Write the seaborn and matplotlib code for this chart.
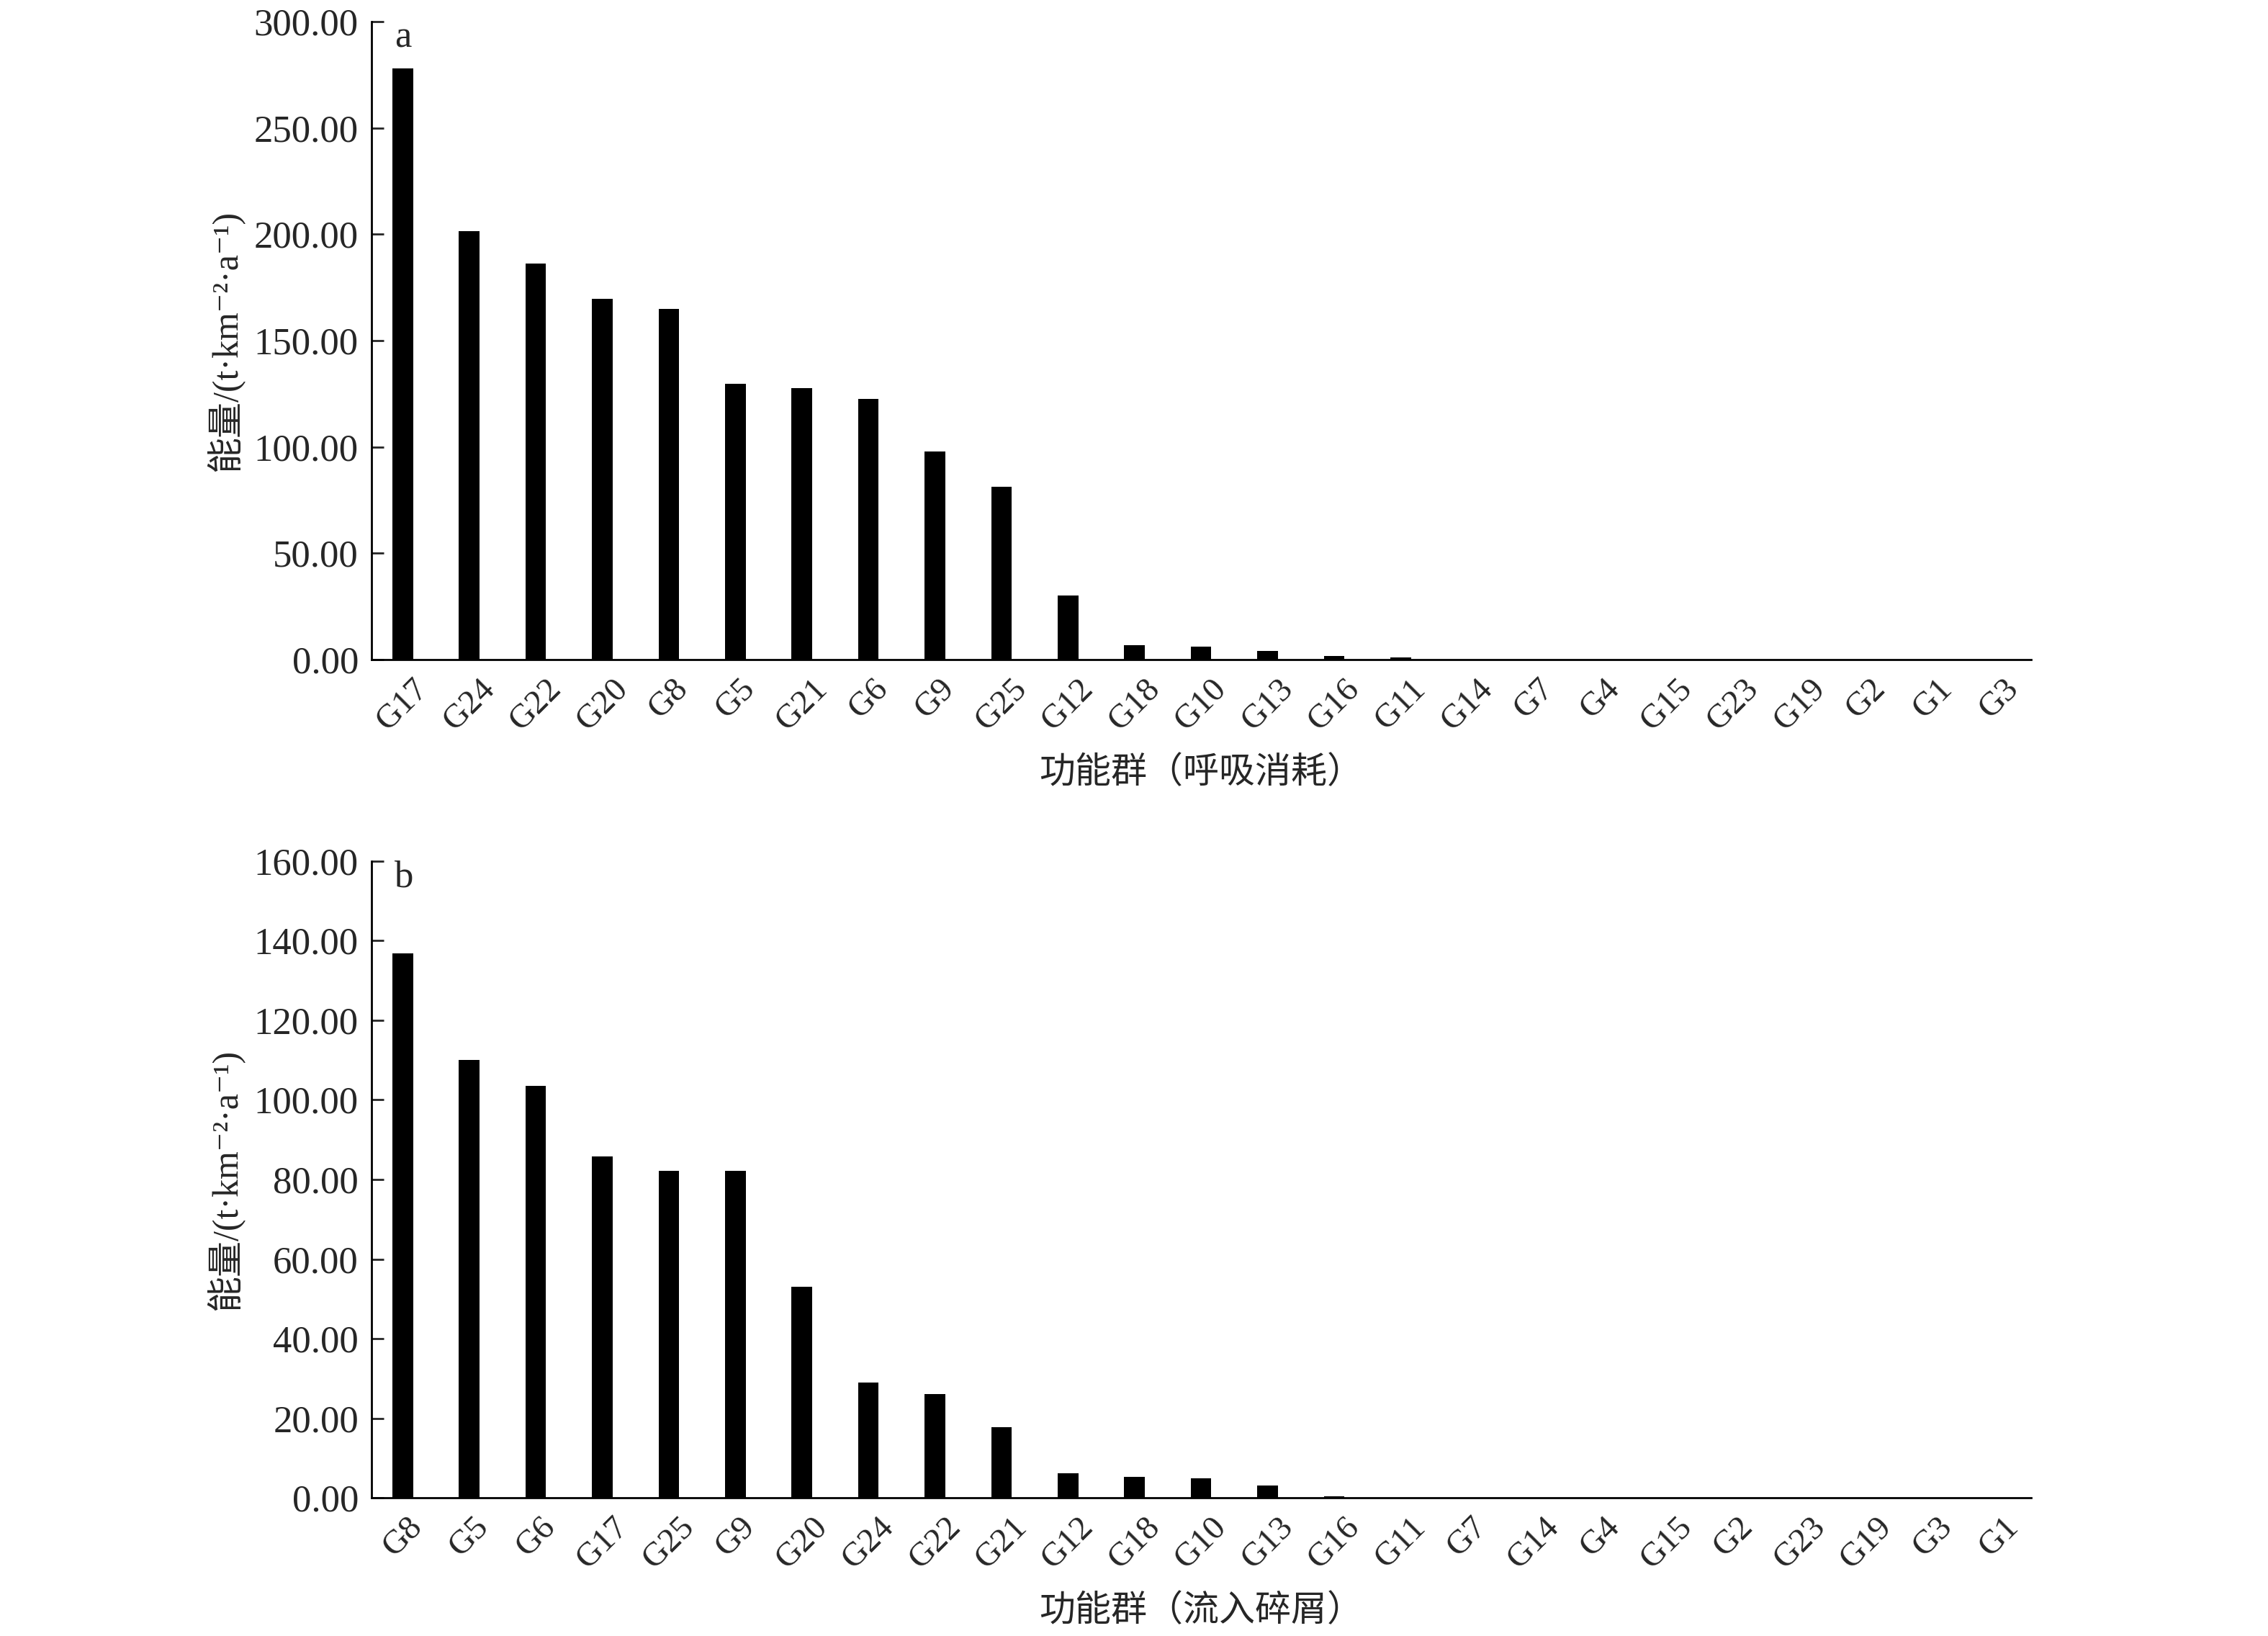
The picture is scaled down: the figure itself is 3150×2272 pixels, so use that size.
import matplotlib
matplotlib.use("Agg")
import matplotlib.pyplot as plt
import seaborn as sns
import pandas as pd
from matplotlib.ticker import FormatStrFormatter

# ---- data ----
groups_a = ["G17", "G24", "G22", "G20", "G8", "G5", "G21", "G6", "G9", "G25", "G12", "G18",
            "G10", "G13", "G16", "G11", "G14", "G7", "G4", "G15", "G23", "G19", "G2", "G1", "G3"]
values_a = [278.0, 201.4, 186.2, 169.5, 165.0, 129.6, 127.7, 122.6, 97.8, 81.2, 30.0, 6.8,
            6.2, 4.0, 1.7, 1.2, 0, 0, 0, 0, 0, 0, 0, 0, 0]

groups_b = ["G8", "G5", "G6", "G17", "G25", "G9", "G20", "G24", "G22", "G21", "G12", "G18",
            "G10", "G13", "G16", "G11", "G7", "G14", "G4", "G15", "G2", "G23", "G19", "G3", "G1"]
values_b = [136.9, 110.1, 103.5, 85.8, 82.2, 82.1, 53.0, 29.0, 26.1, 17.8, 6.1, 5.3,
            4.8, 3.1, 0.3, 0, 0, 0, 0, 0, 0, 0, 0, 0, 0]

yticks_a = [0, 50, 100, 150, 200, 250, 300]
yticks_b = [0, 20, 40, 60, 80, 100, 120, 140, 160]

xlabel_a = "功能群（呼吸消耗）"
xlabel_b = "功能群（流入碎屑）"
ylabel = "能量/(t·km⁻²·a⁻¹)"
panel_a = "a"
panel_b = "b"

# ---- style ----
sns.set_style("ticks")
plt.rcParams["font.family"] = ["Liberation Serif", "Noto Sans CJK SC", "DejaVu Serif"]
plt.rcParams["axes.unicode_minus"] = False

fig = plt.figure(figsize=(31.5, 22.72), dpi=100)
ax_a = fig.add_axes([0.1638, 0.5968, 0.7318, 0.3900])
ax_b = fig.add_axes([0.1638, 0.0845, 0.7318, 0.3891])

cjk_fam = ["Liberation Serif", "Noto Sans CJK SC", "DejaVu Serif"]


def draw(ax, groups, values, yticks, xlabel, panel):
    df = pd.DataFrame({"group": groups, "value": values})
    sns.barplot(data=df, x="group", y="value", order=groups, color="black",
                saturation=1, width=0.31, ax=ax, edgecolor="none")
    ax.set_xlim(-0.47, len(groups) - 0.52)
    ax.set_ylim(yticks[0], yticks[-1])
    ax.set_yticks(yticks)
    ax.yaxis.set_major_formatter(FormatStrFormatter("%.2f"))
    for s in ["top", "right"]:
        ax.spines[s].set_visible(False)
    for s in ["left", "bottom"]:
        ax.spines[s].set_linewidth(2.0)
        ax.spines[s].set_color("black")
    ax.tick_params(axis="y", direction="in", length=12, width=2.0, labelsize=38, pad=13)
    ax.tick_params(axis="x", length=0, labelsize=34, pad=14)
    for lab in ax.get_xticklabels():
        lab.set_rotation(45)
        lab.set_ha("center")
    ax.set_xlabel(xlabel, fontsize=36, family=cjk_fam, labelpad=20)
    ax.set_ylabel(ylabel, fontsize=36, family=cjk_fam, labelpad=10)
    ax.text(0.019, 0.975, panel, transform=ax.transAxes, fontsize=38,
            ha="center", va="center")


draw(ax_a, groups_a, values_a, yticks_a, xlabel_a, panel_a)
draw(ax_b, groups_b, values_b, yticks_b, xlabel_b, panel_b)

fig.savefig("out.png", dpi=100, facecolor="white")
